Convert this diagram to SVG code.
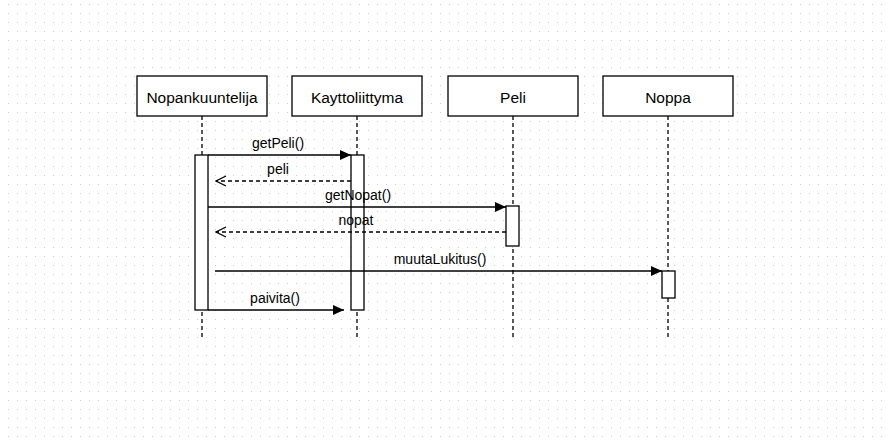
<svg xmlns="http://www.w3.org/2000/svg" width="888" height="442" viewBox="0 0 888 442">
  <defs>
    <pattern id="grid" x="8" y="4" width="9" height="9" patternUnits="userSpaceOnUse">
      <rect x="0" y="0" width="1" height="1" fill="#cfcfcf"/>
    </pattern>
    <marker id="filled" viewBox="0 0 10 10" refX="10" refY="5" markerWidth="11" markerHeight="10" markerUnits="userSpaceOnUse" orient="auto" preserveAspectRatio="none">
      <path d="M0,0 L10,5 L0,10 z" fill="#000"/>
    </marker>
    <marker id="open" viewBox="-1 -1 12 12" refX="10" refY="5" markerWidth="12" markerHeight="12" markerUnits="userSpaceOnUse" orient="auto">
      <path d="M0,0 L10,5 L0,10" fill="none" stroke="#000" stroke-width="1.3" stroke-dasharray="none"/>
    </marker>
  </defs>
  <style>
    .box { fill: #fff; stroke: #000; stroke-width: 1.3; }
    .title { font-family: "Liberation Sans", Arial, sans-serif; font-size: 15.5px; fill: #000; text-anchor: middle; }
    .lbl { font-family: "Liberation Sans", Arial, sans-serif; font-size: 14px; fill: #000; text-anchor: middle; }
    .life { stroke: #000; stroke-width: 1.3; stroke-dasharray: 4 3; fill: none; }
    .act { fill: #fff; stroke: #000; stroke-width: 1.3; }
    .msg { stroke: #000; stroke-width: 1.3; fill: none; marker-end: url(#filled); }
    .ret { stroke: #000; stroke-width: 1.3; fill: none; stroke-dasharray: 4 3; marker-end: url(#open); }
  </style>
  <rect x="0" y="0" width="888" height="442" fill="#fff"/>
  <rect x="0" y="0" width="888" height="442" fill="url(#grid)"/>

  <g id="Nopankuuntelija">
    <rect class="box" x="137" y="76" width="130" height="40"/>
    <text class="title" x="202" y="103">Nopankuuntelija</text>
    <line class="life" x1="202" y1="116" x2="202" y2="337"/>
    <rect class="act" x="195" y="155" width="13" height="155"/>
  </g>
  <g id="Kayttoliittyma">
    <rect class="box" x="292" y="76" width="130" height="40"/>
    <text class="title" x="357" y="103">Kayttoliittyma</text>
    <line class="life" x1="357" y1="116" x2="357" y2="337"/>
    <rect class="act" x="351" y="155" width="13" height="155"/>
  </g>
  <g id="Peli">
    <rect class="box" x="448" y="76" width="130" height="40"/>
    <text class="title" x="513" y="103">Peli</text>
    <line class="life" x1="513" y1="116" x2="513" y2="337"/>
    <rect class="act" x="506" y="206" width="13" height="40"/>
  </g>
  <g id="Noppa">
    <rect class="box" x="603" y="76" width="130" height="40"/>
    <text class="title" x="668" y="103">Noppa</text>
    <line class="life" x1="668" y1="116" x2="668" y2="337"/>
    <rect class="act" x="662" y="271" width="13" height="27"/>
  </g>

  <g id="connectors">
    <line class="msg" x1="208" y1="155" x2="351" y2="155"/>
    <text class="lbl" x="278" y="148">getPeli()</text>
    <line class="ret" x1="351" y1="181" x2="216" y2="181"/>
    <text class="lbl" x="278" y="174">peli</text>
    <line class="msg" x1="208" y1="207" x2="506" y2="207"/>
    <text class="lbl" x="358" y="200">getNopat()</text>
    <line class="ret" x1="506" y1="232" x2="216" y2="232"/>
    <text class="lbl" x="356" y="225">nopat</text>
    <line class="msg" x1="215" y1="271" x2="662" y2="271"/>
    <text class="lbl" x="440" y="264">muutaLukitus()</text>
    <line class="msg" x1="208" y1="310" x2="344" y2="310"/>
    <text class="lbl" x="275" y="303">paivita()</text>
  </g>
</svg>
